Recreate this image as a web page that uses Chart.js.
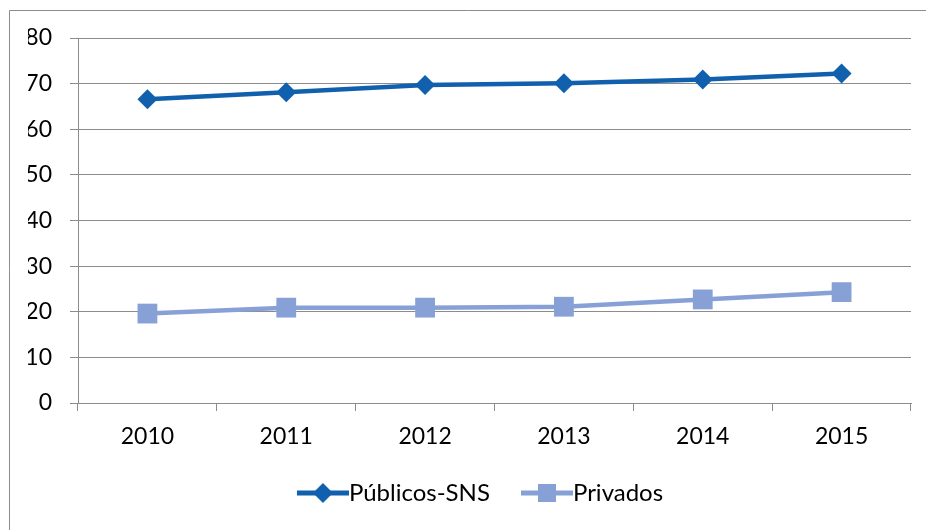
<!DOCTYPE html>
<html>
<head>
<meta charset="utf-8">
<script src="https://cdn.jsdelivr.net/npm/chart.js@4.4.0/dist/chart.umd.min.js"></script>
<style>
  body { margin: 0; background: #fff; }
</style>
</head>
<body>
<canvas id="myChart" width="926" height="530"></canvas>
<script>
var years = ['2010', '2011', '2012', '2013', '2014', '2015'];
var publicos = [66.6, 68.1, 69.7, 70.1, 70.9, 72.2];
var privados = [19.6, 20.9, 20.9, 21.1, 22.7, 24.3];
var seriesNames = ['Públicos-SNS', 'Privados'];
var yMin = 0, yMax = 80, yStep = 10;

var darkBlue = '#1060AE';
var lightBlue = '#87A1D6';
var gridGray = '#8C8C8C';

Chart.defaults.font.family = 'Lato, "Open Sans", sans-serif';
Chart.defaults.color = '#000';

// legend mark: a short line with the marker, drawn into a small canvas
function legendMark(color, shape) {
    var c = document.createElement('canvas');
    c.width = 85; c.height = 24;
    var g = c.getContext('2d');
    g.strokeStyle = color;
    g.fillStyle = color;
    g.lineWidth = 5;
    g.beginPath();
    g.moveTo(33, 12);
    g.lineTo(85, 12);
    g.stroke();
    var cx = 59, cy = 12;
    if (shape === 'diamond') {
        g.beginPath();
        g.moveTo(cx, cy - 10);
        g.lineTo(cx + 10, cy);
        g.lineTo(cx, cy + 10);
        g.lineTo(cx - 10, cy);
        g.closePath();
        g.fill();
    } else {
        g.fillRect(cx - 9, cy - 9, 18, 18);
    }
    return c;
}
var marks = [legendMark(darkBlue, 'diamond'), legendMark(lightBlue, 'square')];

// outer frame of the chart
var frame = {
    id: 'frame',
    beforeDraw: function (chart) {
        var c = chart.ctx;
        c.save();
        c.fillStyle = '#fff';
        c.fillRect(0, 0, chart.width, chart.height);
        c.strokeStyle = gridGray;
        c.lineWidth = 1;
        c.beginPath();
        c.moveTo(9.5, 531);
        c.lineTo(9.5, 10.5);
        c.lineTo(927, 10.5);
        c.stroke();
        c.restore();
    }
};

var ctx = document.getElementById('myChart').getContext('2d');
var myChart = new Chart(ctx, {
    type: 'line',
    data: {
        labels: years,
        datasets: [
            {
                label: seriesNames[0],
                data: publicos,
                borderColor: darkBlue,
                backgroundColor: darkBlue,
                borderWidth: 4.5,
                pointStyle: 'rectRot',
                pointRadius: 10,
                pointBorderWidth: 0,
                tension: 0
            },
            {
                label: seriesNames[1],
                data: privados,
                borderColor: lightBlue,
                backgroundColor: lightBlue,
                borderWidth: 4.5,
                pointStyle: 'rect',
                pointRadius: 14,
                pointBorderWidth: 0,
                tension: 0
            }
        ]
    },
    options: {
        responsive: false,
        animation: false,
        events: [],
        layout: {
            padding: { top: 38, right: 15, bottom: 15, left: 28 }
        },
        plugins: {
            tooltip: { enabled: false },
            legend: {
                position: 'bottom',
                labels: {
                    usePointStyle: true,
                    pointStyleWidth: 61,
                    padding: 10,
                    font: { size: 24 },
                    color: '#000',
                    generateLabels: function (chart) {
                        var items = Chart.defaults.plugins.legend.labels.generateLabels(chart);
                        items.forEach(function (it, i) {
                            it.pointStyle = marks[i];
                        });
                        return items;
                    }
                }
            }
        },
        scales: {
            x: {
                offset: true,
                grid: {
                    offset: true,
                    drawOnChartArea: false,
                    color: gridGray,
                    tickLength: 8
                },
                border: { color: gridGray },
                ticks: { padding: 12, font: { size: 23 }, color: '#000' },
                afterFit: function (scale) { scale.height = 68; }
            },
            y: {
                min: yMin,
                max: yMax,
                ticks: { stepSize: yStep, padding: 18, font: { size: 23 }, color: '#000' },
                grid: { color: gridGray, tickLength: 8 },
                border: { color: gridGray },
                afterFit: function (scale) { scale.width = 50; }
            }
        }
    },
    plugins: [frame]
});
</script>
</body>
</html>
